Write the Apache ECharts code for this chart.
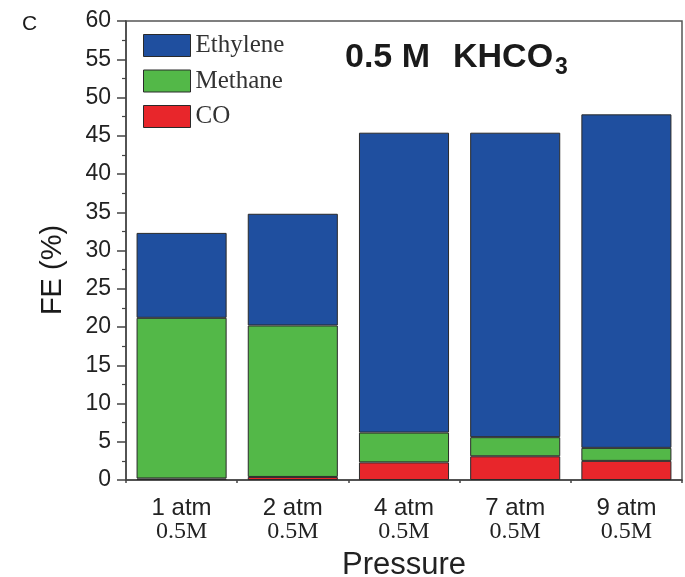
<!DOCTYPE html>
<html>
<head>
<meta charset="utf-8">
<script src="https://cdn.jsdelivr.net/npm/echarts@6/dist/echarts.min.js"></script>
<style>
  html, body { margin: 0; padding: 0; background: #fff; }
  #chart { width: 685px; height: 577px; }
</style>
</head>
<body>
<div id="chart"></div>
<script>
// Faradaic efficiency by pressure in 0.5 M KHCO3
const pressures = ['1 atm', '2 atm', '4 atm', '7 atm', '9 atm'];
const electrolyte = '0.5M';
const ethylene = [11.1, 14.6, 39.2, 39.8, 43.6];
const methane = [21.0, 19.8, 3.9, 2.5, 1.7];
const co = [0.2, 0.4, 2.3, 3.1, 2.5];
const yTicks = { min: 0, max: 60, step: 5 };

const colors = { ethylene: '#1f4f9f', methane: '#53b848', co: '#e8262b' };
const edge = '#2a2a2a';
const axisColor = '#444';
const sans = 'Liberation Sans, Arial, sans-serif';
const serif = 'Liberation Serif, Times New Roman, serif';

const chart = echarts.init(document.getElementById('chart'), null, { renderer: 'canvas' });

function barSeries(name, data, color) {
  return {
    name: name,
    type: 'bar',
    stack: 'fe',
    data: data,
    barWidth: '81%',
    itemStyle: { color: color, borderColor: edge, borderWidth: 1 },
    emphasis: { disabled: true }
  };
}

function label(x, y, text, size, opts) {
  return {
    type: 'text', x: x, y: y, rotation: (opts && opts.rotation) || 0,
    style: {
      text: text, fontFamily: sans, fontSize: size,
      fontWeight: (opts && opts.bold) ? 'bold' : 'normal',
      fill: '#1a1a1a',
      align: (opts && opts.align) || 'left', verticalAlign: 'middle'
    }
  };
}

chart.setOption({
  animation: false,
  backgroundColor: '#fff',
  grid: {
    left: 126, right: 3, top: 21, bottom: 97,
    outerBoundsMode: 'none',
    show: true, borderColor: '#555', borderWidth: 1.5, backgroundColor: 'transparent'
  },
  graphic: [
    label(22, 24, 'C', 21),
    label(52.5, 270, 'FE (%)', 29, { rotation: Math.PI / 2, align: 'center' }),
    label(345, 58, '0.5 M', 34, { bold: true }),
    label(453, 58, 'KHCO', 34, { bold: true }),
    label(555, 68, '3', 23, { bold: true })
  ],
  legend: {
    data: ['Ethylene', 'Methane', 'CO'],
    orient: 'vertical',
    left: 143, top: 33, padding: 0,
    itemWidth: 47, itemHeight: 22, itemGap: 10.5,
    icon: 'rect',
    textStyle: { fontFamily: serif, fontSize: 25, color: '#333', lineHeight: 22 },
    itemStyle: { borderColor: edge, borderWidth: 1 }
  },
  xAxis: [
    {
      type: 'category',
      data: pressures,
      name: 'Pressure',
      nameLocation: 'middle',
      nameGap: 70,
      nameTextStyle: { fontFamily: sans, fontSize: 31, color: '#222' },
      axisLine: { lineStyle: { color: axisColor, width: 1.5 } },
      axisTick: { alignWithLabel: true, length: 5, lineStyle: { color: axisColor, width: 1.5 } },
      axisLabel: {
        margin: 17,
        formatter: function (v) { return '{a|' + v + '}\n{b|' + electrolyte + '}'; },
        rich: {
          a: { fontFamily: sans, fontSize: 24, color: '#222', lineHeight: 23 },
          b: { fontFamily: serif, fontSize: 24, color: '#222', lineHeight: 23 }
        }
      }
    },
    {
      type: 'category',
      data: pressures,
      position: 'bottom',
      axisLine: { show: false },
      axisTick: { show: true, length: 3, lineStyle: { color: axisColor, width: 1.5 } },
      axisLabel: { show: false },
      splitLine: { show: false }
    }
  ],
  yAxis: {
    type: 'value',
    min: yTicks.min, max: yTicks.max, interval: yTicks.step,
    axisLine: { show: true, lineStyle: { color: axisColor, width: 1.5 } },
    axisTick: { show: true, length: 9, lineStyle: { color: axisColor, width: 1.5 } },
    minorTick: { show: true, splitNumber: 2, length: 4, lineStyle: { color: axisColor, width: 1.2 } },
    axisLabel: { fontFamily: sans, fontSize: 23, color: '#222', margin: 15 },
    splitLine: { show: false }
  },
  series: [
    barSeries('CO', co, colors.co),
    barSeries('Methane', methane, colors.methane),
    barSeries('Ethylene', ethylene, colors.ethylene)
  ]
});
</script>
</body>
</html>
